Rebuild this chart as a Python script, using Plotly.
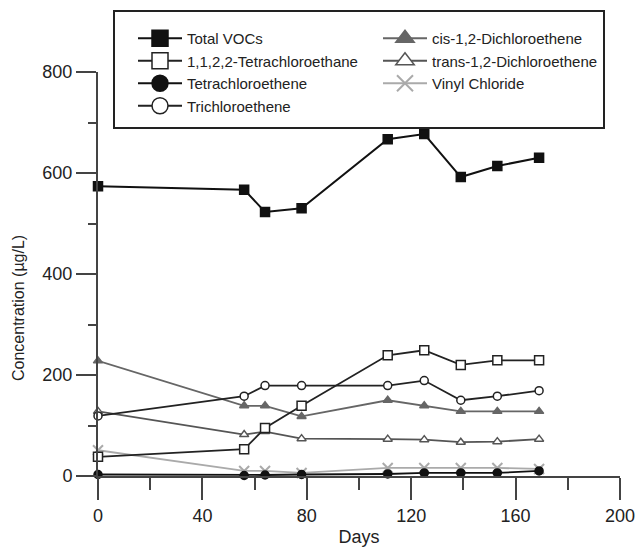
import plotly.graph_objects as go

days = [0, 56, 64, 78, 111, 125, 139, 153, 169]
total_vocs = [574, 567, 523, 530, 667, 677, 592, 614, 630]
tetrachloroethane = [38, 53, 95, 139, 239, 249, 220, 229, 229]
tetrachloroethene = [3, 1, 2, 3, 4, 6, 6, 6, 10]
trichloroethene = [119, 158, 179, 179, 179, 189, 150, 158, 169]
cis_dce = [228, 139, 139, 118, 150, 139, 128, 128, 128]
trans_dce = [128, 82, 88, 74, 73, 72, 67, 68, 73]
vinyl_chloride = [51, 10, 10, 6, 16, 16, 16, 16, 14]

x_ticks = [0, 40, 80, 120, 160, 200]
y_ticks = [0, 200, 400, 600, 800]

FONT = "Liberation Sans, Arial, sans-serif"

series = [
    # name, values, symbol, marker fill, marker line, line colour, legend group
    ("Total VOCs", total_vocs, "square", "#111111", "#111111", "#111111", "legend"),
    ("1,1,2,2-Tetrachloroethane", tetrachloroethane, "square", "white", "#222222", "#222222", "legend"),
    ("Tetrachloroethene", tetrachloroethene, "circle", "#111111", "#111111", "#111111", "legend"),
    ("Trichloroethene", trichloroethene, "circle", "white", "#222222", "#222222", "legend"),
    ("cis-1,2-Dichloroethene", cis_dce, "triangle-up", "#666666", "#666666", "#666666", "legend2"),
    ("trans-1,2-Dichloroethene", trans_dce, "triangle-up", "white", "#555555", "#555555", "legend2"),
    ("Vinyl Chloride", vinyl_chloride, "x-thin", "#aaaaaa", "#aaaaaa", "#aaaaaa", "legend2"),
]

data_size = {"square": 9, "circle": 8, "triangle-up": 8, "x-thin": 10}

fig = go.Figure()
draw_order = [6, 5, 4, 3, 1, 2, 0]
for i in draw_order:
    name, vals, sym, fill, mline, lcol, _ = series[i]
    if sym == "x-thin":
        marker = dict(symbol="x-thin", size=data_size[sym], line=dict(color=mline, width=2))
    else:
        marker = dict(symbol=sym, size=data_size[sym], color=fill, line=dict(color=mline, width=1.5))
    fig.add_trace(go.Scatter(
        x=days, y=vals, mode="lines+markers", name=name,
        line=dict(color=lcol, width=2 if i == 0 else 1.8),
        marker=marker, showlegend=False, cliponaxis=False,
    ))

# legend entries
for name, vals, sym, fill, mline, lcol, lg in series:
    if sym == "x-thin":
        marker = dict(symbol="x-thin", size=16, line=dict(color=mline, width=2))
    else:
        marker = dict(symbol=sym, size=16, color=fill, line=dict(color=mline, width=1.5))
    fig.add_trace(go.Scatter(
        x=[None], y=[None], mode="lines+markers", name=name,
        line=dict(color=lcol, width=2), marker=marker,
        showlegend=True, legend=lg,
    ))

W, H = 636, 552
L, R, T, B = 98, 16, 72, 76
pw, ph = W - L - R, H - T - B

def px_x(p):
    return (p - L) / pw

def px_y(p):
    return (H - B - p) / ph

legend_common = dict(
    font=dict(family=FONT, size=15, color="#222222"),
    bgcolor="rgba(0,0,0,0)", borderwidth=0,
    xanchor="left", yanchor="top", itemwidth=44,
    orientation="v", tracegroupgap=0,
)

fig.update_layout(
    width=W, height=H,
    margin=dict(l=L, r=R, t=T, b=B, pad=0, autoexpand=False),
    paper_bgcolor="white", plot_bgcolor="white",
    font=dict(family=FONT, color="#222222"),
    legend=dict(x=px_x(133), y=px_y(22), **legend_common),
    legend2=dict(x=px_x(378), y=px_y(22), **legend_common),
    shapes=[dict(
        type="rect", xref="paper", yref="paper",
        x0=px_x(114), x1=px_x(604), y0=px_y(128), y1=px_y(11),
        line=dict(color="#222222", width=2), fillcolor="rgba(0,0,0,0)", layer="above",
    )],
    annotations=[dict(
        text="Concentration (µg/L)", textangle=-90, showarrow=False,
        xref="paper", yref="paper", x=px_x(18), y=px_y(308),
        xanchor="center", yanchor="middle",
        font=dict(family=FONT, size=16, color="#222222"),
    )],
)

fig.update_xaxes(
    range=[0, 200], tickvals=x_ticks, ticktext=[str(v) for v in x_ticks],
    showgrid=False, zeroline=False, showline=True, linecolor="#444444", linewidth=2,
    ticks="outside", ticklen=22, tickwidth=2, tickcolor="#444444",
    minor=dict(dtick=20, ticks="outside", ticklen=12, tickwidth=2, tickcolor="#444444"),
    tickfont=dict(family=FONT, size=18, color="#222222"),
    title=dict(text="Days", font=dict(family=FONT, size=18, color="#222222"), standoff=6),
)
fig.update_yaxes(
    range=[0, 800], tickvals=y_ticks, ticktext=[str(v) for v in y_ticks],
    showgrid=False, zeroline=False, showline=True, linecolor="#444444", linewidth=2,
    ticks="outside", ticklen=20, tickwidth=2, tickcolor="#444444",
    minor=dict(dtick=100, ticks="outside", ticklen=8, tickwidth=2, tickcolor="#444444"),
    tickfont=dict(family=FONT, size=18, color="#222222"),
)

fig.write_html(
    "out.html",
    config={"displayModeBar": False},
    post_script="document.body.style.margin='0px';document.body.style.overflow='hidden';",
)
